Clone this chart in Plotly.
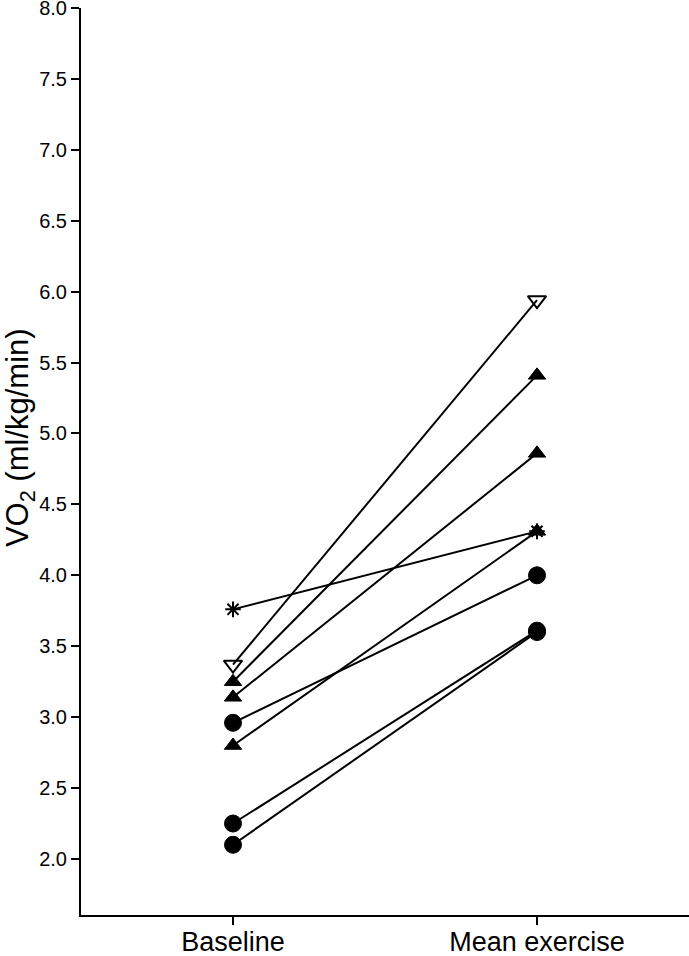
import plotly.graph_objects as go

categories = ["Baseline", "Mean exercise"]
baseline = [2.10, 2.25, 2.96, 2.80, 3.76, 3.14, 3.25, 3.37]
exercise = [3.60, 3.61, 4.00, 4.31, 4.31, 4.86, 5.41, 5.94]
symbols = ["circle", "circle", "circle", "triangle-up", "asterisk-open",
           "triangle-up", "triangle-up", "triangle-down-open"]
y_ticks = [2.0, 2.5, 3.0, 3.5, 4.0, 4.5, 5.0, 5.5, 6.0, 6.5, 7.0, 7.5, 8.0]

sizes = {"circle": 17, "triangle-up": 15, "asterisk-open": 13, "triangle-down-open": 16}

fig = go.Figure()
xpos = [0, 1]
order = [7, 0, 1, 2, 3, 5, 6, 4]
for i in order:
    sym = symbols[i]
    open_sym = sym.endswith("open")
    fig.add_trace(go.Scatter(
        x=xpos, y=[baseline[i], exercise[i]],
        mode="lines+markers",
        line=dict(color="black", width=2),
        marker=dict(symbol=sym, size=sizes[sym],
                    color="black",
                    line=dict(color="black", width=2 if open_sym else 1)),
        showlegend=False, hoverinfo="skip", cliponaxis=False,
    ))

fig.update_layout(
    width=689, height=956,
    margin=dict(l=81, r=0, t=8, b=41),
    paper_bgcolor="white", plot_bgcolor="white",
    font=dict(family="Liberation Sans, Arial, sans-serif", color="black"),
    annotations=[dict(
        text="VO<sub>2</sub> (ml/kg/min)", textangle=-90,
        xref="paper", yref="paper", x=-0.1, y=0.526,
        xanchor="center", yanchor="middle", showarrow=False,
        font=dict(size=31, color="black"),
    )],
)
fig.update_xaxes(
    range=[-0.5, 1.5], tickvals=xpos, ticktext=categories,
    showline=True, linecolor="black", linewidth=2,
    ticks="outside", ticklen=8, tickwidth=2, tickcolor="black",
    tickfont=dict(size=27), showgrid=False, zeroline=False, automargin=False,
    ticklabeloverflow="allow", ticklabelstandoff=-6,
)
fig.update_yaxes(
    range=[1.605, 8.0], tickvals=y_ticks,
    ticktext=[f"{v:.1f}" for v in y_ticks],
    showline=True, linecolor="black", linewidth=2,
    ticks="outside", ticklen=8, tickwidth=2, tickcolor="black",
    tickfont=dict(size=20, color="black"), showgrid=False, zeroline=False,
    automargin=False, ticklabeloverflow="allow",
)
fig.write_html("out.html")
